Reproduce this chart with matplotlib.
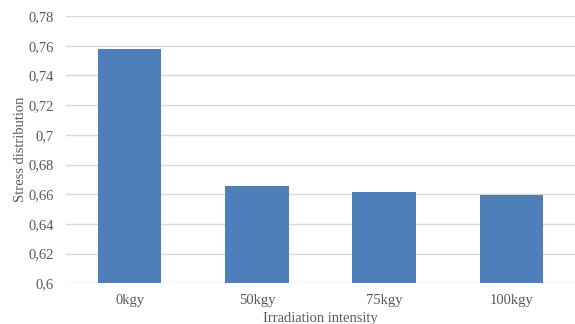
import numpy as np
import matplotlib.pyplot as plt

# irradiation doses and the measured stress distribution
doses = ["0kgy", "50kgy", "75kgy", "100kgy"]
stress = [0.758, 0.6657, 0.6618, 0.6595]
yticks = [0.6, 0.62, 0.64, 0.66, 0.68, 0.7, 0.72, 0.74, 0.76, 0.78]
ytick_labels = ["0,6", "0,62", "0,64", "0,66", "0,68", "0,7", "0,72", "0,74", "0,76", "0,78"]

plt.rcParams['font.family'] = ['Liberation Serif', 'DejaVu Serif']
txt = "#595959"

fig = plt.figure(figsize=(5.75, 3.24), dpi=100)
ax = fig.add_axes([0.1148, 0.1256, 0.8852, 0.825])

x = np.arange(len(doses))
ax.bar(x, stress, width=0.5, color="#4F7FBB", zorder=3)

ax.set_xlim(-0.5, len(doses) - 0.5)
ax.set_ylim(0.6, 0.78)
ax.set_yticks(yticks)
ax.set_yticklabels(ytick_labels)
ax.set_xticks(x)
ax.set_xticklabels(doses)
ax.yaxis.grid(True, color="#D9D9D9", linewidth=1.0, zorder=0)
ax.set_axisbelow(True)
for s in ax.spines.values():
    s.set_visible(False)
ax.tick_params(axis="y", length=0, pad=9, labelsize=10.5, labelcolor=txt)
ax.tick_params(axis="x", length=0, pad=8, labelsize=10.5, labelcolor=txt)

ax.set_xlabel("Irradiation intensity", fontsize=10.5, color=txt, labelpad=3.5)
ax.set_ylabel("Stress distribution", fontsize=10.5, color=txt, labelpad=1)

plt.savefig("out.png", dpi=100)
